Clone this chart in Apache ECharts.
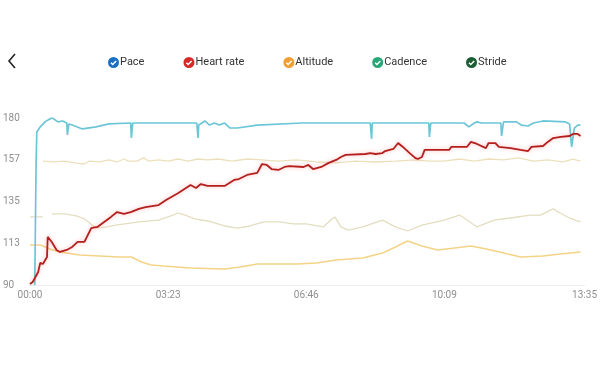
<!DOCTYPE html>
<html>
<head>
<meta charset="utf-8">
<script src="https://cdn.jsdelivr.net/npm/echarts@6/dist/echarts.min.js"></script>
<style>
html,body{margin:0;padding:0;background:#fff;}
#c{width:600px;height:390px;}
</style>
</head>
<body>
<div id="c"></div>
<script>
// time in seconds, values in chart units
var seriesNames = ['Pace', 'Heart rate', 'Altitude', 'Cadence', 'Stride'];
var xTickValues = [0, 203, 406, 609, 815];
var xTickLabels = ['00:00', '03:23', '06:46', '10:09', '13:35'];
var yTickLabels = ['90', '113', '135', '157', '180'];

var pace = [[7,90],[9,157],[10,172.5],[15,175.2],[22,177.9],[29,179.5],[33,180],[41,177.9],[48,178.4],[54,177.3],[55,170.9],[57,176.8],[62,176.2],[77,174.1],[97,175.2],[116,176.8],[148,177.3],[149,169.2],[151,177.3],[196,177.3],[245,177.3],[247,169.2],[248,176.2],[257,178.4],[264,176.2],[271,177.3],[278,176.2],[286,177.3],[294,174.6],[305,174.6],[334,176.2],[399,177.3],[500,177.3],[502,168.7],[503,177.3],[586,177.3],[587,169.8],[589,177.3],[638,177.3],[645,175.2],[653,177.3],[657,177.9],[663,177.3],[692,177.3],[693,170.3],[696,177.9],[715,177.9],[722,176.2],[732,175.7],[740,177.3],[754,178.4],[787,177.9],[793,176.8],[796,164.4],[800,174.6],[805,176.2],[809,176.2]];

var heartRate = [[0,90.5],[4,91.6],[12,97],[15,101.9],[19,101.3],[25,105.1],[26,115.9],[32,113.2],[39,108.9],[44,107.8],[54,108.9],[62,110.5],[70,113.2],[80,113.2],[90,120.7],[99,121.3],[109,124],[119,126.7],[128,129.3],[138,128.3],[148,129.3],[160,131],[170,132],[189,133.1],[200,135.8],[218,139.6],[236,143.9],[244,142.3],[251,144.4],[261,143.4],[286,143.4],[300,146.6],[307,147.1],[319,149.3],[334,150.4],[341,155.2],[348,154.7],[355,152.5],[365,152],[374,153.6],[381,154.1],[402,153.6],[409,154.7],[416,152.5],[428,153.6],[439,155.8],[450,157.4],[457,159],[464,160.1],[493,160.6],[500,161.1],[508,160.6],[518,161.1],[522,162.2],[534,163.3],[541,166.5],[548,164.4],[558,161.1],[566,158.5],[570,157.9],[576,159],[580,162.8],[616,162.8],[619,164.4],[642,164.4],[648,167.1],[657,166],[670,163.8],[674,166.5],[684,166.5],[689,164.4],[706,163.8],[721,162.8],[732,162.2],[737,164.4],[754,164.9],[761,167.1],[769,169.2],[780,169.8],[793,170.3],[798,171.4],[805,171.4],[809,170.3]];

var altitude = [[0,111.6],[15,111.6],[29,109.4],[44,107.8],[73,106.2],[131,105.1],[149,105.1],[164,102.4],[178,100.8],[196,100.2],[236,99.2],[286,98.6],[309,99.7],[334,101.3],[392,101.3],[421,101.9],[450,103.5],[489,104.6],[518,107.2],[537,110.5],[555,113.7],[576,111],[599,108.9],[624,109.9],[648,111],[671,109.4],[696,107.2],[721,105.1],[754,105.6],[779,106.7],[809,107.8]];

var cadence = [[19,156.8],[36,156.3],[51,156.8],[65,155.8],[80,155.2],[87,156.8],[102,156.3],[116,157.4],[128,156.3],[138,157.9],[145,156.8],[157,156.8],[167,158.5],[174,156.8],[189,157.4],[203,156.8],[218,157.9],[232,156.8],[247,157.9],[261,157.4],[276,157.9],[297,156.8],[319,157.9],[341,157.4],[363,156.8],[392,157.4],[421,156.3],[450,155.8],[479,156.8],[508,156.3],[537,156.8],[566,157.4],[587,156.8],[609,156.8],[631,157.9],[653,156.8],[674,157.9],[696,157.4],[718,158.5],[740,156.8],[761,157.4],[783,156.3],[798,157.9],[809,156.8]];

var stride = [[0,126.7],[19,126.7],[25,null],[32,128.3],[51,128.3],[68,127.2],[80,125.6],[97,120.7],[112,121.3],[126,122.3],[160,124],[189,125],[207,127.2],[218,128.8],[228,127.7],[242,125.6],[261,124.5],[286,121.8],[305,120.7],[323,121.8],[344,124],[367,124],[387,122.9],[406,122.9],[431,121.3],[442,125],[448,126.7],[457,121.3],[468,119.6],[489,121.3],[518,125],[537,121.3],[555,119.1],[576,122.3],[609,125],[631,127.7],[638,126.1],[657,121.3],[682,125],[706,126.1],[735,127.7],[750,127.7],[769,131],[779,128.8],[793,126.1],[809,124]];

var legendColors = ['#1a6fc4', '#d42a2a', '#f0a030', '#28a878', '#1a5e32'];
var lineColors = ['#6cc6d8', '#b3201d', '#f3d486', '#ece0bc', '#e4ddc0'];
var lineWidths = [1.7, 1.8, 1.5, 1.3, 1.3];
var dataSets = [pace, heartRate, altitude, cadence, stride];

// check-in-circle icon (check cut out of the disc)
var checkIcon = 'path://M50,0A50,50,0,0,1,50,100A50,50,0,0,1,50,0Z' +
  'M22,57L43,78L79,41L69,31L43,58L32,47Z';

function fmtTime(v) {
  var i = xTickValues.indexOf(v);
  if (i >= 0) return xTickLabels[i];
  return '';
}

var chart = echarts.init(document.getElementById('c'), null, {renderer: 'canvas'});
var series = seriesNames.map(function (n, i) {
  var s = {
    name: n,
    type: 'line',
    data: dataSets[i],
    showSymbol: false,
    symbol: 'none',
    connectNulls: false,
    z: [4, 5, 3, 2, 2][i],
    itemStyle: {color: legendColors[i]},
    lineStyle: {color: lineColors[i], width: lineWidths[i]}
  };
  if (i === 1) {
    s.lineStyle.shadowColor = 'rgba(255,60,60,0.35)';
    s.lineStyle.shadowBlur = 4;
  }
  return s;
});

chart.setOption({
  animation: false,
  backgroundColor: '#ffffff',
  legend: {
    top: 52,
    left: 103,
    icon: checkIcon,
    itemWidth: 11,
    itemHeight: 11,
    itemGap: 39,
    textStyle: {color: '#333', fontSize: 11, fontFamily: 'Roboto', padding: [0, 0, 0, -4]},
    data: seriesNames.map(function (n, i) {
      return {name: n, itemStyle: {color: legendColors[i]}};
    })
  },
  graphic: [{
    type: 'polyline',
    shape: {points: [[15, 54], [9, 61], [15, 68]]},
    style: {stroke: '#222', lineWidth: 1.6, fill: null}
  }],
  grid: {left: 30, right: 8, top: 118, bottom: 105, containLabel: false},
  xAxis: {
    type: 'value',
    min: 0,
    max: 815,
    axisLine: {show: true, lineStyle: {color: '#eeeeee'}},
    axisTick: {show: false},
    splitLine: {show: false},
    axisLabel: {
      customValues: xTickValues,
      formatter: fmtTime,
      color: '#8f8f8f',
      fontSize: 10,
      fontFamily: 'Roboto',
      margin: 5,
      showMinLabel: true,
      showMaxLabel: true
    }
  },
  yAxis: {
    type: 'value',
    min: 90,
    max: 180,
    interval: 22.5,
    axisLine: {show: false},
    axisTick: {show: false},
    splitLine: {show: false},
    axisLabel: {
      formatter: function (v) { return yTickLabels[Math.round((v - 90) / 22.5)]; },
      color: '#8f8f8f',
      fontSize: 10,
      fontFamily: 'Roboto',
      align: 'left',
      margin: 27
    }
  },
  series: series
});
</script>
</body>
</html>
